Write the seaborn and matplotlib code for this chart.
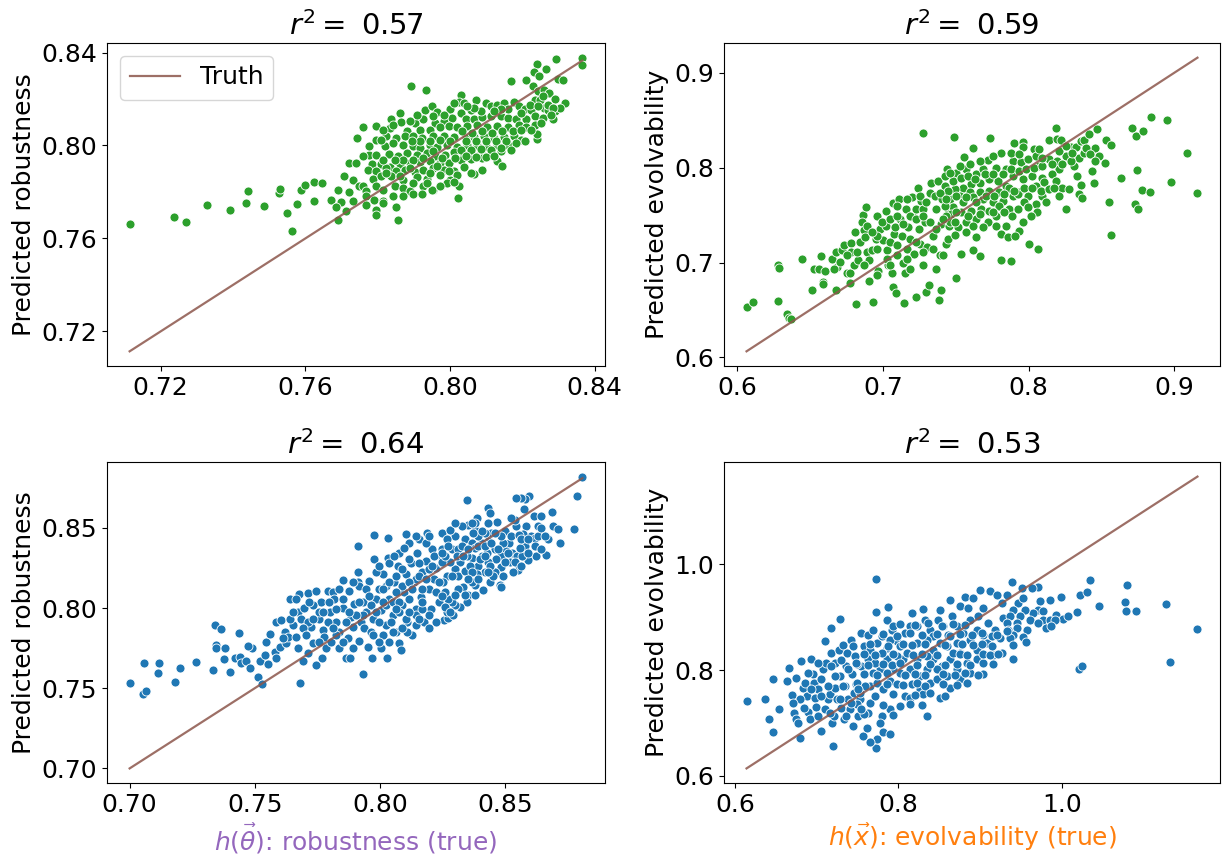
import matplotlib
matplotlib.use("Agg")
import matplotlib.pyplot as plt
import seaborn as sns
import pandas as pd

# ---------------- data: (true value, predicted value) ----------------
TL_PTS = [
    (0.7114, 0.7664), (0.7236, 0.7691), (0.7270, 0.7670), (0.7327, 0.7746), (0.7392, 0.7723),
    (0.7435, 0.7751), (0.7441, 0.7805), (0.7485, 0.7739), (0.7526, 0.7794), (0.7529, 0.7811),
    (0.7549, 0.7709), (0.7563, 0.7632), (0.7578, 0.7748), (0.7587, 0.7810), (0.7600, 0.7829),
    (0.7624, 0.7761), (0.7624, 0.7842), (0.7645, 0.7837), (0.7671, 0.7767),
    (0.8366, 0.8378), (0.8364, 0.8346), (0.8294, 0.8374), (0.8241, 0.8352), (0.8266, 0.8330),
    (0.8232, 0.8317), (0.8245, 0.8299), (0.8168, 0.8276), (0.8210, 0.8281), (0.8299, 0.8287),
    (0.8313, 0.8281), (0.8230, 0.8256), (0.7892, 0.8254), (0.7934, 0.8238), (0.8029, 0.8217),
    (0.8243, 0.8234), (0.8260, 0.8241), (0.8275, 0.8224), (0.8289, 0.8198), (0.8317, 0.8184),
    (0.8234, 0.8194), (0.8250, 0.8194), (0.8024, 0.8186), (0.8038, 0.8184), (0.8073, 0.8195),
    (0.8099, 0.8184), (0.8113, 0.8172), (0.8131, 0.8176), (0.8150, 0.8184), (0.8178, 0.8186),
    (0.8192, 0.8169), (0.8206, 0.8155), (0.8224, 0.8152), (0.8260, 0.8162), (0.8271, 0.8152),
    (0.8289, 0.8148), (0.8303, 0.8162), (0.7931, 0.8152), (0.7950, 0.8169), (0.7964, 0.8143),
    (0.8001, 0.8158), (0.8029, 0.8140), (0.8057, 0.8152), (0.7861, 0.8138), (0.7838, 0.8115),
    (0.7864, 0.8100), (0.7903, 0.8097), (0.7926, 0.8112), (0.7959, 0.8097), (0.7982, 0.8104),
    (0.8006, 0.8119), (0.8043, 0.8112), (0.8066, 0.8115), (0.8089, 0.8123), (0.8113, 0.8129),
    (0.8141, 0.8126), (0.8159, 0.8117), (0.8182, 0.8115), (0.8210, 0.8115), (0.8234, 0.8126),
    (0.8257, 0.8119), (0.8285, 0.8115), (0.7759, 0.8080), (0.7794, 0.8086), (0.7833, 0.8076),
    (0.7880, 0.8061), (0.7917, 0.8066), (0.7945, 0.8068), (0.7973, 0.8080), (0.7996, 0.8083),
    (0.8019, 0.8080), (0.8047, 0.8086), (0.8075, 0.8090), (0.8103, 0.8080), (0.8131, 0.8086),
    (0.8159, 0.8080), (0.8192, 0.8090), (0.8210, 0.8080), (0.7742, 0.8033), (0.7794, 0.8025),
    (0.7824, 0.8040), (0.7852, 0.8033), (0.7875, 0.8040), (0.7898, 0.8043), (0.7922, 0.8033),
    (0.7954, 0.8043), (0.7982, 0.8040), (0.8010, 0.8037), (0.8043, 0.8033), (0.8066, 0.8037),
    (0.8094, 0.8043), (0.8122, 0.8033), (0.8150, 0.8037), (0.8178, 0.8040), (0.8196, 0.8025),
    (0.8241, 0.8028), (0.8241, 0.8051), (0.8206, 0.8018), (0.7819, 0.7997), (0.7843, 0.8011),
    (0.7871, 0.8004), (0.7898, 0.7997), (0.7917, 0.7989), (0.7945, 0.8000), (0.7964, 0.7994),
    (0.7992, 0.8000), (0.8019, 0.7994), (0.8047, 0.8000), (0.8075, 0.8004), (0.8099, 0.7997),
    (0.8131, 0.8000), (0.8159, 0.8004), (0.7776, 0.7961), (0.7796, 0.7961), (0.7831, 0.7965),
    (0.7857, 0.7953), (0.7880, 0.7968), (0.7908, 0.7961), (0.7936, 0.7968), (0.7959, 0.7953),
    (0.7987, 0.7961), (0.8010, 0.7971), (0.8038, 0.7961), (0.8061, 0.7965), (0.8085, 0.7968),
    (0.8113, 0.7971), (0.8141, 0.7975), (0.7722, 0.7925), (0.7740, 0.7925), (0.7785, 0.7922),
    (0.7810, 0.7922), (0.7833, 0.7907), (0.7861, 0.7922), (0.7889, 0.7925), (0.7917, 0.7927),
    (0.7945, 0.7932), (0.7973, 0.7925), (0.7996, 0.7925), (0.8029, 0.7939), (0.8057, 0.7942),
    (0.8089, 0.7946), (0.8131, 0.7932), (0.8145, 0.7913), (0.7708, 0.7867), (0.7731, 0.7853),
    (0.7773, 0.7896), (0.7796, 0.7889), (0.7824, 0.7903), (0.7852, 0.7889), (0.7875, 0.7893),
    (0.7903, 0.7884), (0.7926, 0.7896), (0.7954, 0.7903), (0.7982, 0.7893), (0.8010, 0.7889),
    (0.8038, 0.7907), (0.8066, 0.7879), (0.8089, 0.7896), (0.7749, 0.7824), (0.7787, 0.7856),
    (0.7810, 0.7867), (0.7838, 0.7867), (0.7871, 0.7853), (0.7908, 0.7864), (0.7936, 0.7856),
    (0.7973, 0.7874), (0.8001, 0.7853), (0.8019, 0.7874), (0.8057, 0.7881), (0.7689, 0.7809),
    (0.7722, 0.7798), (0.7759, 0.7824), (0.7768, 0.7802), (0.7796, 0.7824), (0.7815, 0.7809),
    (0.7847, 0.7827), (0.7871, 0.7817), (0.7889, 0.7802), (0.7926, 0.7824), (0.7954, 0.7809),
    (0.7992, 0.7838), (0.8024, 0.7824), (0.7698, 0.7755), (0.7731, 0.7759), (0.7768, 0.7781),
    (0.7791, 0.7766), (0.7815, 0.7759), (0.7843, 0.7784), (0.7871, 0.7781), (0.7898, 0.7792),
    (0.7922, 0.7792), (0.7950, 0.7809), (0.7684, 0.7737), (0.7712, 0.7716), (0.7768, 0.7745),
    (0.7815, 0.7752), (0.7852, 0.7737), (0.7796, 0.7723), (0.7796, 0.7702), (0.7689, 0.7680),
    (0.7857, 0.7680), (0.8021, 0.7773),
]
TL_CORE = [
    (0.8033, 0.8061), (0.8061, 0.8054), (0.8089, 0.8061), (0.8117, 0.8054), (0.8145, 0.8061),
    (0.8173, 0.8061), (0.8043, 0.8018), (0.8071, 0.8018), (0.8099, 0.8018), (0.8127, 0.8018),
    (0.8154, 0.8018), (0.8182, 0.8011), (0.8029, 0.7982), (0.8057, 0.7982), (0.8085, 0.7985),
    (0.8113, 0.7982), (0.8141, 0.7989), (0.8168, 0.7982), (0.8001, 0.8018), (0.7973, 0.8025),
    (0.7945, 0.8018), (0.7917, 0.8018), (0.7894, 0.8018), (0.8015, 0.7946), (0.8043, 0.7953),
    (0.8071, 0.7950), (0.8099, 0.7950), (0.8122, 0.7953), (0.7978, 0.7946), (0.7954, 0.7975),
    (0.7926, 0.7946), (0.7898, 0.7939), (0.7871, 0.7939), (0.7847, 0.7939), (0.7815, 0.7939),
    (0.7824, 0.7881), (0.7889, 0.7903), (0.7945, 0.7881), (0.7996, 0.7889), (0.7964, 0.7910),
    (0.7861, 0.7867), (0.7898, 0.7838), (0.7936, 0.7838), (0.7973, 0.7824), (0.8010, 0.7845),
    (0.8196, 0.8140), (0.8220, 0.8176), (0.8243, 0.8169), (0.8257, 0.8212), (0.8271, 0.8176),
    (0.8285, 0.8162), (0.8234, 0.8090), (0.8252, 0.8097), (0.8280, 0.8133), (0.8196, 0.8068),
    (0.8224, 0.8068), (0.8159, 0.8155), (0.8141, 0.8155), (0.8122, 0.8148), (0.8085, 0.8148),
    (0.8066, 0.8162), (0.8047, 0.8169), (0.8010, 0.8184), (0.7982, 0.8133), (0.7954, 0.8126),
    (0.7908, 0.8133), (0.7889, 0.8104), (0.7843, 0.8090), (0.7815, 0.8068), (0.7810, 0.8025),
    (0.7777, 0.7997), (0.7759, 0.7953),
]

TR_PTS = [
    (0.6065, 0.6533), (0.6109, 0.6585), (0.6281, 0.6972), (0.6288, 0.6944), (0.6281, 0.6599),
    (0.6340, 0.6456), (0.6359, 0.6415), (0.6368, 0.6408), (0.6447, 0.7042), (0.6515, 0.6714),
    (0.6527, 0.6937), (0.6561, 0.6930), (0.6579, 0.7069), (0.6590, 0.6798), (0.6590, 0.6773),
    (0.6606, 0.6909), (0.6652, 0.7042), (0.6681, 0.6714), (0.6686, 0.6955), (0.6681, 0.7111),
    (0.6720, 0.7129), (0.6736, 0.7181), (0.6754, 0.6895), (0.6772, 0.6885), (0.6783, 0.7209),
    (0.6777, 0.6780), (0.6783, 0.7111), (0.6799, 0.6972), (0.6818, 0.6561), (0.6833, 0.7024),
    (0.6811, 0.7327), (0.6845, 0.7216), (0.6863, 0.7501), (0.6856, 0.7425), (0.6868, 0.7348),
    (0.6886, 0.7581), (0.6879, 0.7268), (0.6890, 0.7111), (0.6902, 0.6805), (0.6902, 0.7024),
    (0.6924, 0.7129), (0.6936, 0.6582), (0.6954, 0.7251), (0.6958, 0.7494), (0.6970, 0.6909),
    (0.6981, 0.7355), (0.7004, 0.7233), (0.7022, 0.7547), (0.7022, 0.7390), (0.7027, 0.7129),
    (0.7038, 0.6979), (0.7049, 0.7216), (0.7061, 0.6885), (0.7068, 0.7623), (0.7072, 0.6746),
    (0.7077, 0.7303), (0.7083, 0.7372), (0.7090, 0.6676), (0.7095, 0.7076), (0.7113, 0.7669),
    (0.7117, 0.7460), (0.7129, 0.7285), (0.7140, 0.6996), (0.7145, 0.6571), (0.7152, 0.6885),
    (0.7158, 0.7564), (0.7167, 0.7146), (0.7174, 0.7372), (0.7186, 0.7244), (0.7197, 0.7686),
    (0.7204, 0.7477), (0.7213, 0.7094), (0.7231, 0.6641), (0.7231, 0.7564), (0.7242, 0.7790),
    (0.7249, 0.7355), (0.7254, 0.7198), (0.7265, 0.7651), (0.7277, 0.8365), (0.7277, 0.7564),
    (0.7288, 0.7425), (0.7299, 0.6693), (0.7304, 0.7164), (0.7317, 0.6763), (0.7322, 0.7738),
    (0.7333, 0.7843), (0.7345, 0.7285), (0.7356, 0.7703), (0.7367, 0.7564), (0.7386, 0.6606),
    (0.7379, 0.7860), (0.7390, 0.7076), (0.7401, 0.6711), (0.7401, 0.7407), (0.7408, 0.7669),
    (0.7424, 0.7808), (0.7436, 0.7198), (0.7440, 0.7982), (0.7447, 0.7564), (0.7454, 0.7390),
    (0.7491, 0.8324), (0.7736, 0.8310), (0.7618, 0.8209), (0.7557, 0.8115), (0.7505, 0.7948),
    (0.7573, 0.7983), (0.7641, 0.7930), (0.7686, 0.7983), (0.7720, 0.8080), (0.7777, 0.8000),
    (0.7811, 0.8150), (0.7845, 0.7983), (0.7895, 0.8070), (0.7902, 0.8261), (0.7959, 0.8268),
    (0.7959, 0.8219), (0.7948, 0.8059), (0.7993, 0.8087), (0.8039, 0.8192), (0.8050, 0.8122),
    (0.8073, 0.8017), (0.8141, 0.8289), (0.8186, 0.8418), (0.8198, 0.8303), (0.8220, 0.8296),
    (0.8141, 0.8087), (0.8198, 0.8070), (0.8254, 0.8122), (0.8289, 0.8219), (0.8327, 0.8219),
    (0.8357, 0.8279), (0.8379, 0.8296), (0.8413, 0.8359), (0.8470, 0.8408), (0.8532, 0.8296),
    (0.8568, 0.8244), (0.8459, 0.8209), (0.8482, 0.8122), (0.8527, 0.8052), (0.8345, 0.8104),
    (0.8379, 0.8157), (0.8311, 0.8017), (0.8209, 0.7983), (0.8164, 0.7930), (0.8095, 0.7895),
    (0.8027, 0.7913), (0.7959, 0.7878), (0.7891, 0.7913), (0.7845, 0.7808), (0.7789, 0.7861),
    (0.7732, 0.7878), (0.7664, 0.7843), (0.7607, 0.7826), (0.7550, 0.7791), (0.7493, 0.7774),
    (0.7459, 0.7669), (0.7527, 0.7704), (0.7596, 0.7739), (0.7664, 0.7739), (0.7732, 0.7756),
    (0.7800, 0.7739), (0.7868, 0.7791), (0.7936, 0.7739), (0.7993, 0.7704), (0.8050, 0.7808),
    (0.8107, 0.7850), (0.8186, 0.7861), (0.8232, 0.7781), (0.8277, 0.7774), (0.8334, 0.7913),
    (0.8432, 0.7965), (0.8448, 0.7843), (0.8357, 0.7815), (0.8345, 0.7721), (0.8368, 0.7676),
    (0.8209, 0.7704), (0.8095, 0.7697), (0.8050, 0.7617), (0.7970, 0.7634), (0.7891, 0.7704),
    (0.7823, 0.7652), (0.7755, 0.7634), (0.7686, 0.7669), (0.7618, 0.7687), (0.7550, 0.7634),
    (0.7482, 0.7582), (0.7471, 0.7512), (0.7539, 0.7530), (0.7607, 0.7547), (0.7675, 0.7565),
    (0.7732, 0.7547), (0.7800, 0.7599), (0.7868, 0.7565), (0.7925, 0.7721), (0.8061, 0.7530),
    (0.8016, 0.7488), (0.7886, 0.7495), (0.7777, 0.7495), (0.7720, 0.7425), (0.7641, 0.7460),
    (0.7573, 0.7425), (0.7516, 0.7373), (0.7459, 0.7432), (0.7448, 0.7251), (0.7493, 0.7293),
    (0.7573, 0.7321), (0.7641, 0.7269), (0.7811, 0.7303), (0.7857, 0.7269), (0.7936, 0.7328),
    (0.7909, 0.7279), (0.8000, 0.7199), (0.8068, 0.7147), (0.8259, 0.7565), (0.8550, 0.7634),
    (0.8636, 0.7895), (0.8568, 0.7293), (0.8743, 0.7976), (0.8777, 0.7767), (0.8834, 0.7746),
    (0.8732, 0.7617), (0.8754, 0.7565), (0.8977, 0.7850), (0.9084, 0.8157), (0.9159, 0.7737),
    (0.8709, 0.8418), (0.8738, 0.8338), (0.8788, 0.8383), (0.8838, 0.8533), (0.8947, 0.8505),
    (0.7539, 0.7094), (0.7618, 0.7129), (0.7668, 0.7070), (0.7811, 0.7025), (0.7880, 0.7018),
    (0.7505, 0.6833),
]
TR_CORE = [
    (0.7425, 0.7913), (0.7482, 0.7861), (0.7539, 0.7896), (0.7584, 0.7913), (0.7630, 0.7878),
    (0.7698, 0.7930), (0.7755, 0.7930), (0.7823, 0.7930), (0.7880, 0.7983), (0.7936, 0.7965),
    (0.7982, 0.7983), (0.8039, 0.8000), (0.8095, 0.8017), (0.8164, 0.8035), (0.8232, 0.8035),
    (0.8289, 0.8070), (0.7448, 0.7756), (0.7505, 0.7704), (0.7573, 0.7687), (0.7641, 0.7634),
    (0.7709, 0.7704), (0.7766, 0.7704), (0.7834, 0.7721), (0.7902, 0.7756), (0.7970, 0.7791),
    (0.8027, 0.7791), (0.8084, 0.7756), (0.8141, 0.7774), (0.8175, 0.7791), (0.7425, 0.7599),
    (0.7505, 0.7530), (0.7584, 0.7495), (0.7664, 0.7512), (0.7755, 0.7530), (0.7834, 0.7530),
    (0.7925, 0.7565), (0.7993, 0.7582), (0.8118, 0.7634), (0.7436, 0.7495), (0.7493, 0.7425),
    (0.7618, 0.7390), (0.7686, 0.7373), (0.7777, 0.7390), (0.7845, 0.7390), (0.7959, 0.7425),
    (0.7880, 0.8157), (0.7936, 0.8139), (0.8073, 0.8192), (0.8095, 0.8104), (0.8209, 0.8174),
    (0.8254, 0.8226), (0.8300, 0.8157), (0.8391, 0.8209), (0.8425, 0.8139), (0.8459, 0.8070),
    (0.7755, 0.8122), (0.7664, 0.8070), (0.7596, 0.8035), (0.7527, 0.8017), (0.7459, 0.7948),
    (0.6958, 0.7285), (0.6993, 0.7425), (0.7049, 0.7460), (0.7095, 0.7494), (0.7140, 0.7407),
    (0.7186, 0.7494), (0.7231, 0.7460), (0.7277, 0.7494), (0.7322, 0.7425), (0.7367, 0.7355),
    (0.7413, 0.7460), (0.6958, 0.7146), (0.7027, 0.7042), (0.7095, 0.7181), (0.7163, 0.7042),
    (0.7231, 0.7216), (0.7277, 0.7111), (0.7345, 0.7146), (0.7413, 0.7076), (0.6890, 0.7390),
    (0.6924, 0.7320), (0.7095, 0.7599), (0.7163, 0.7669), (0.7254, 0.7703), (0.7299, 0.7634),
    (0.7390, 0.7738), (0.7436, 0.7669), (0.6822, 0.7111), (0.6754, 0.7076), (0.6709, 0.7007),
    (0.6663, 0.6937), (0.6868, 0.6972), (0.6958, 0.6868), (0.7049, 0.6972), (0.7186, 0.6937),
    (0.7277, 0.6972), (0.7367, 0.6937),
]

BL_PTS = [
    (0.7000, 0.7532), (0.7052, 0.7466), (0.7065, 0.7480), (0.7056, 0.7659), (0.7113, 0.7598),
    (0.7116, 0.7659), (0.7181, 0.7536), (0.7201, 0.7629), (0.7265, 0.7666), (0.7335, 0.7614),
    (0.7341, 0.7892), (0.7346, 0.7769), (0.7347, 0.7748), (0.7366, 0.7872), (0.7377, 0.7680),
    (0.7382, 0.7748), (0.7401, 0.7604), (0.7436, 0.7845), (0.7422, 0.7686), (0.7441, 0.7697),
    (0.7444, 0.7655),
    (0.7467, 0.7671), (0.7481, 0.7626), (0.7491, 0.7749), (0.7474, 0.7766), (0.7514, 0.7568),
    (0.7531, 0.7527), (0.7520, 0.7667), (0.7540, 0.7708), (0.7547, 0.7790), (0.7560, 0.7836),
    (0.7580, 0.7729), (0.7587, 0.7687), (0.7553, 0.7650), (0.7587, 0.7914), (0.7606, 0.7924),
    (0.7600, 0.7759), (0.7620, 0.7852), (0.7626, 0.7780), (0.7633, 0.7821), (0.7640, 0.8054),
    (0.7673, 0.7975), (0.7679, 0.8089), (0.7686, 0.7930), (0.7699, 0.8000), (0.7713, 0.8095),
    (0.7666, 0.7821), (0.7673, 0.7749), (0.7682, 0.7533), (0.7693, 0.7667), (0.7713, 0.7718),
    (0.7726, 0.7883), (0.7732, 0.7780), (0.7746, 0.8109), (0.7746, 0.7646), (0.7759, 0.7934),
    (0.7766, 0.8037), (0.7772, 0.7862), (0.7779, 0.7821), (0.7770, 0.7687), (0.7792, 0.8109),
    (0.7801, 0.7975), (0.7812, 0.8099), (0.7819, 0.8058), (0.7825, 0.7914), (0.7839, 0.7852),
    (0.7839, 0.7749), (0.7852, 0.8000), (0.7852, 0.8177), (0.7865, 0.7687), (0.7872, 0.7811),
    (0.7880, 0.7690), (0.7878, 0.8109), (0.7885, 0.7945), (0.7892, 0.7883), (0.7898, 0.8027),
    (0.7911, 0.8161), (0.7918, 0.7794), (0.7925, 0.7914), (0.7931, 0.7589), (0.7911, 0.8387),
    (0.7918, 0.8140), (0.7931, 0.8037), (0.7938, 0.7873), (0.7945, 0.7975), (0.7951, 0.7759),
    (0.7964, 0.7852), (0.7968, 0.7687), (0.7971, 0.7934), (0.7978, 0.8455), (0.7978, 0.8305),
    (0.7958, 0.8171), (0.7984, 0.8058), (0.7998, 0.8119), (0.8004, 0.7986), (0.8011, 0.7831),
    (0.8024, 0.7893), (0.8027, 0.7687), (0.8011, 0.8212), (0.8031, 0.8438), (0.8031, 0.8315),
    (0.8037, 0.8058), (0.8051, 0.7955), (0.8057, 0.8161), (0.8064, 0.7852), (0.8071, 0.8264),
    (0.8077, 0.8346), (0.8077, 0.7780), (0.8084, 0.7739), (0.8090, 0.8017), (0.8097, 0.8099),
    (0.8104, 0.8465), (0.8104, 0.8212), (0.8110, 0.7914), (0.8117, 0.8408), (0.8124, 0.8284),
    (0.8130, 0.7831), (0.8137, 0.8161), (0.8143, 0.7996), (0.8150, 0.8346), (0.8157, 0.8428),
    (0.8163, 0.8068), (0.8170, 0.8222), (0.8177, 0.7914), (0.8183, 0.8294), (0.8190, 0.8469),
    (0.8197, 0.8119), (0.8203, 0.7996), (0.8210, 0.8366), (0.8216, 0.8181), (0.8223, 0.8253),
    (0.8236, 0.8037), (0.8243, 0.8325), (0.8250, 0.8469), (0.8256, 0.7924),
    (0.8037, 0.8284), (0.8064, 0.8202), (0.8090, 0.8140), (0.8117, 0.8058), (0.8143, 0.8181),
    (0.8170, 0.8119), (0.8197, 0.8243), (0.8223, 0.8099), (0.8143, 0.7955), (0.8170, 0.7996),
    (0.8077, 0.7975), (0.8024, 0.8017), (0.7998, 0.7914), (0.8051, 0.8037), (0.8117, 0.8161),
    (0.8157, 0.8284), (0.8183, 0.8408), (0.8216, 0.8325), (0.8197, 0.8449), (0.7984, 0.8222),
    (0.7964, 0.8017), (0.7931, 0.7955), (0.7905, 0.7955), (0.7852, 0.8058), (0.7825, 0.7996),
    (0.7792, 0.7914), (0.7759, 0.7975), (0.7732, 0.8017), (0.7713, 0.7914), (0.7693, 0.7873),
    (0.7653, 0.7893), (0.7640, 0.7934), (0.7613, 0.7811), (0.7666, 0.8058), (0.7785, 0.7749),
    (0.7805, 0.7790), (0.7825, 0.7831), (0.7865, 0.7914), (0.7971, 0.7831), (0.8004, 0.7749),
    (0.8044, 0.7914), (0.8110, 0.7852), (0.8064, 0.8099), (0.8024, 0.8140), (0.7945, 0.8119),
    (0.7892, 0.8161), (0.7911, 0.8222), (0.7998, 0.8264), (0.8057, 0.8325), (0.8097, 0.8377),
    (0.8143, 0.8449), (0.8250, 0.8284),
    (0.8810, 0.8820), (0.8788, 0.8696), (0.8778, 0.8494), (0.8688, 0.8597), (0.8692, 0.8511),
    (0.8712, 0.8494), (0.8722, 0.8404), (0.8674, 0.8429), (0.8665, 0.8334), (0.8625, 0.8326),
    (0.8592, 0.8301), (0.8552, 0.8239), (0.8616, 0.8573), (0.8645, 0.8573), (0.8632, 0.8511),
    (0.8595, 0.8696), (0.8579, 0.8680), (0.8563, 0.8686), (0.8546, 0.8686), (0.8576, 0.8618),
    (0.8586, 0.8511), (0.8606, 0.8449), (0.8619, 0.8439), (0.8579, 0.8387), (0.8572, 0.8459),
    (0.8546, 0.8511), (0.8539, 0.8552), (0.8523, 0.8562), (0.8499, 0.8480), (0.8515, 0.8404),
    (0.8529, 0.8346), (0.8550, 0.8326), (0.8568, 0.8326), (0.8506, 0.8357), (0.8486, 0.8326),
    (0.8486, 0.8254), (0.8480, 0.8141), (0.8486, 0.8130), (0.8460, 0.8223), (0.8440, 0.8161),
    (0.8433, 0.8624), (0.8440, 0.8593), (0.8470, 0.8536), (0.8446, 0.8470), (0.8433, 0.8418),
    (0.8420, 0.8470), (0.8407, 0.8408), (0.8387, 0.8562), (0.8380, 0.8490), (0.8407, 0.8326),
    (0.8367, 0.8315), (0.8393, 0.8264), (0.8420, 0.8223), (0.8413, 0.8110), (0.8380, 0.8141),
    (0.8367, 0.8161), (0.8354, 0.8079), (0.8334, 0.8130), (0.8347, 0.8038), (0.8320, 0.8007),
    (0.8301, 0.8017), (0.8287, 0.8038), (0.8274, 0.8058), (0.8274, 0.7935), (0.8267, 0.7976),
    (0.8294, 0.7955), (0.8347, 0.8671), (0.8354, 0.8521), (0.8327, 0.8511), (0.8301, 0.8449),
    (0.8281, 0.8490), (0.8267, 0.8429), (0.8287, 0.8367), (0.8314, 0.8367), (0.8340, 0.8429),
    (0.8367, 0.8408), (0.8380, 0.8377), (0.8347, 0.8326), (0.8320, 0.8285), (0.8301, 0.8243),
    (0.8281, 0.8285), (0.8267, 0.8202), (0.8314, 0.8202), (0.8340, 0.8233), (0.8360, 0.8264),
    (0.8387, 0.8213), (0.8393, 0.8449), (0.8460, 0.8367), (0.8466, 0.8305), (0.8433, 0.8285),
    (0.8493, 0.8408), (0.8519, 0.8285), (0.8559, 0.8377), (0.8526, 0.8449), (0.8555, 0.8453),
    (0.8427, 0.8346), (0.8380, 0.8531),
]
BL_CORE = [
    (0.8248, 0.8367), (0.8248, 0.8285), (0.8254, 0.8161), (0.8261, 0.8099), (0.8287, 0.8202),
    (0.8307, 0.8326), (0.8327, 0.8387), (0.8334, 0.8326), (0.8354, 0.8367), (0.8367, 0.8223),
    (0.8373, 0.8470), (0.8393, 0.8387), (0.8400, 0.8305), (0.8420, 0.8387), (0.8420, 0.8326),
    (0.8440, 0.8264), (0.8446, 0.8408), (0.8453, 0.8202), (0.8473, 0.8367), (0.8486, 0.8449),
    (0.8493, 0.8202), (0.8499, 0.8285), (0.8513, 0.8346), (0.8539, 0.8285), (0.8533, 0.8223),
    (0.8566, 0.8429), (0.8592, 0.8429), (0.8566, 0.8264), (0.8632, 0.8449), (0.8619, 0.8387),
    (0.8645, 0.8367), (0.8592, 0.8346), (0.8645, 0.8501), (0.8659, 0.8449), (0.8460, 0.8470),
    (0.8433, 0.8531), (0.8407, 0.8480), (0.8367, 0.8531), (0.8301, 0.8531), (0.8274, 0.8387),
    (0.8261, 0.8326), (0.8314, 0.8120), (0.8354, 0.8182), (0.8393, 0.8182), (0.8433, 0.8223),
    (0.8340, 0.8079), (0.8301, 0.8079), (0.8380, 0.8079), (0.8261, 0.8007), (0.8281, 0.7976),
    (0.7958, 0.8078), (0.7984, 0.7975), (0.8011, 0.8119), (0.8037, 0.8161), (0.8051, 0.7852),
    (0.8077, 0.8037), (0.8090, 0.8243), (0.8104, 0.7934), (0.8117, 0.8305), (0.8130, 0.8119),
    (0.8143, 0.7893), (0.8157, 0.8202), (0.8170, 0.8037), (0.8183, 0.8181), (0.8197, 0.7955),
    (0.8210, 0.8264), (0.8223, 0.7914), (0.8236, 0.8161), (0.8250, 0.8346), (0.8250, 0.8078),
    (0.7998, 0.7790), (0.8037, 0.7790), (0.8090, 0.7873), (0.8197, 0.7873), (0.8011, 0.8037),
    (0.8064, 0.7996), (0.8117, 0.7975), (0.8157, 0.7934), (0.7918, 0.8037), (0.7878, 0.7975),
    (0.7839, 0.8119), (0.7799, 0.8037), (0.7772, 0.7975), (0.7732, 0.7934), (0.7706, 0.7831),
    (0.7759, 0.7790), (0.7812, 0.7873), (0.7852, 0.7790), (0.7892, 0.7749), (0.7719, 0.8037),
    (0.7653, 0.7975),
]

BR_PTS = [
    (0.6143, 0.7417), (0.6373, 0.7461), (0.6422, 0.7085), (0.6471, 0.6834), (0.6471, 0.7838),
    (0.6537, 0.7273), (0.6639, 0.7794), (0.6668, 0.8045), (0.6697, 0.7537), (0.6721, 0.7185),
    (0.6742, 0.7073), (0.6750, 0.7856), (0.6770, 0.7010), (0.6803, 0.6709), (0.6811, 0.8170),
    (0.6832, 0.7668), (0.6860, 0.7750), (0.6885, 0.7512), (0.6893, 0.7211), (0.6914, 0.7085),
    (0.6926, 0.8214), (0.6955, 0.7919), (0.6967, 0.7762), (0.6983, 0.7480), (0.6996, 0.7311),
    (0.7016, 0.7637), (0.7049, 0.6853), (0.7057, 0.7825), (0.7078, 0.8013), (0.7098, 0.8546),
    (0.7106, 0.7261), (0.7119, 0.8139), (0.7139, 0.7449), (0.7160, 0.7543), (0.7172, 0.8327),
    (0.7180, 0.8797), (0.7188, 0.7010), (0.7201, 0.6571), (0.7213, 0.7135), (0.7221, 0.8139),
    (0.7229, 0.7668), (0.7254, 0.7449), (0.7270, 0.8390), (0.7283, 0.7888), (0.7303, 0.7292),
    (0.7324, 0.8484), (0.7336, 0.7073), (0.7344, 0.7700), (0.7365, 0.8076), (0.7377, 0.8327),
    (0.7385, 0.7449), (0.7406, 0.7261), (0.7418, 0.8578), (0.7434, 0.7919), (0.7447, 0.6947),
    (0.7459, 0.7574), (0.7467, 0.8264), (0.7488, 0.7731), (0.7508, 0.7135), (0.7529, 0.7449),
    (0.7541, 0.8703), (0.7549, 0.8076), (0.7570, 0.6759), (0.7582, 0.8453), (0.7284, 0.8966),
    (0.7724, 0.9726), (0.7724, 0.9098), (0.7724, 0.6521), (0.7879, 0.9186), (0.7859, 0.8954),
    (0.7623, 0.8672), (0.7696, 0.8766), (0.7655, 0.8390), (0.7635, 0.8202), (0.7737, 0.8515),
    (0.7798, 0.8641), (0.7859, 0.8421), (0.7920, 0.8766), (0.7981, 0.8546), (0.7940, 0.8829),
    (0.8022, 0.8452), (0.8083, 0.8703), (0.8144, 0.8829), (0.8164, 0.9080), (0.8225, 0.8829),
    (0.8306, 0.9155), (0.8327, 0.8954), (0.8388, 0.8766), (0.8429, 0.8641), (0.8490, 0.8954),
    (0.8510, 0.9142), (0.8551, 0.8829), (0.8612, 0.8672), (0.8632, 0.9330), (0.8652, 0.9017),
    (0.8713, 0.8829), (0.8754, 0.9205), (0.8815, 0.9393), (0.8856, 0.9174), (0.8917, 0.9362),
    (0.8876, 0.8578), (0.8998, 0.9519), (0.9039, 0.9174), (0.9100, 0.8891), (0.9120, 0.9506),
    (0.9202, 0.9424), (0.9263, 0.9268), (0.9283, 0.8985), (0.9243, 0.8609), (0.9039, 0.8672),
    (0.8958, 0.8390), (0.8835, 0.8139), (0.8754, 0.8327), (0.8632, 0.8202), (0.8530, 0.8076),
    (0.8429, 0.8202), (0.8347, 0.8013), (0.8266, 0.7888), (0.8225, 0.8202), (0.8144, 0.8013),
    (0.8062, 0.8202), (0.8022, 0.7951), (0.7940, 0.8013), (0.7859, 0.8202), (0.7777, 0.8013),
    (0.7696, 0.7951), (0.7655, 0.7700), (0.7737, 0.7763), (0.7818, 0.7637), (0.7899, 0.7794),
    (0.7981, 0.7731), (0.8083, 0.7512), (0.8144, 0.7480), (0.8266, 0.7637), (0.8306, 0.7543),
    (0.8388, 0.7763), (0.8469, 0.7825), (0.8591, 0.7888), (0.8632, 0.7668), (0.8713, 0.8013),
    (0.8958, 0.8202), (0.9039, 0.7919), (0.9161, 0.8296), (0.9263, 0.8327), (0.8510, 0.7480),
    (0.8347, 0.7135), (0.8022, 0.7324), (0.7899, 0.7261), (0.7798, 0.7135), (0.7655, 0.7386),
    (0.7635, 0.7198), (0.7777, 0.7010), (0.7818, 0.6822), (0.7737, 0.6696), (0.7655, 0.6634),
    (0.7615, 0.6916), (0.7899, 0.6790), (0.8164, 0.7731), (0.8429, 0.8390), (0.8591, 0.8452),
    (0.8713, 0.8515), (0.8795, 0.8703), (0.8876, 0.8954), (0.8978, 0.9017), (0.9080, 0.8515),
    (0.9181, 0.8766), (0.8225, 0.8515), (0.8347, 0.8578), (0.8103, 0.8327), (0.7981, 0.8264),
    (0.7899, 0.8578), (0.7798, 0.8327), (0.7716, 0.8139), (0.8958, 0.8766), (0.8510, 0.8515),
    (0.8673, 0.8327), (0.8347, 0.8264), (0.8469, 0.8013), (0.8754, 0.7825), (0.8876, 0.7951),
    (0.9039, 0.8139), (0.9141, 0.8641),
    (0.9394, 0.9676), (0.9711, 0.9582), (0.9630, 0.9550), (0.9508, 0.9550), (0.9324, 0.9425),
    (0.9467, 0.9268), (0.9528, 0.9362), (0.9731, 0.9299), (0.9854, 0.9331), (0.9988, 0.9381),
    (1.0228, 0.9425), (1.0309, 0.9487), (1.0350, 0.9707), (1.0798, 0.9613), (0.9711, 0.9143),
    (0.9650, 0.9080), (0.9772, 0.9111), (0.9548, 0.9143), (0.9406, 0.9143), (0.9365, 0.9017),
    (0.9487, 0.9017), (0.9609, 0.8954), (0.9447, 0.8892), (0.9324, 0.8892), (0.9772, 0.8954),
    (0.9854, 0.8954), (0.9935, 0.9048), (1.0016, 0.8967), (1.0077, 0.9030), (1.0187, 0.9092),
    (0.9915, 0.8954), (0.9711, 0.8892), (0.9813, 0.8798), (0.9874, 0.8829), (0.9569, 0.8766),
    (0.9447, 0.8798), (0.9345, 0.8766), (0.9406, 0.8672), (0.9365, 0.8609), (0.9528, 0.8628),
    (0.9560, 0.8528), (0.9406, 0.8484), (0.9324, 0.8735), (0.9398, 0.8202), (1.0212, 0.8014),
    (1.0252, 0.8076), (1.0456, 0.9205), (1.0769, 0.9281), (1.0781, 0.9111), (1.0904, 0.9111),
    (1.1270, 0.9255), (1.1660, 0.8785), (1.1319, 0.8152),
]
BR_CORE = [
    (0.8022, 0.8880), (0.8205, 0.8850), (0.8367, 0.8890), (0.8530, 0.8840), (0.8673, 0.8870),
    (0.8815, 0.8850), (0.7818, 0.8690), (0.7981, 0.8650), (0.8144, 0.8700), (0.8286, 0.8660),
    (0.8469, 0.8690), (0.8632, 0.8650), (0.8754, 0.8690), (0.8897, 0.8660), (0.9019, 0.8700),
    (0.9202, 0.8660), (0.7655, 0.8500), (0.7879, 0.8460), (0.8062, 0.8500), (0.8164, 0.8470),
    (0.8327, 0.8490), (0.8571, 0.8470), (0.8775, 0.8500), (0.8917, 0.8470), (0.9019, 0.8490),
    (0.9141, 0.8460), (0.7574, 0.8310), (0.7716, 0.8280), (0.7940, 0.8310), (0.8184, 0.8280),
    (0.8286, 0.8310), (0.8469, 0.8280), (0.8754, 0.8300), (0.8835, 0.8280), (0.9039, 0.8310),
    (0.9120, 0.8290), (0.9222, 0.8310), (0.7492, 0.8120), (0.7635, 0.8090), (0.7818, 0.8120),
    (0.7920, 0.8100), (0.8022, 0.8130), (0.8225, 0.8090), (0.8388, 0.8120), (0.8571, 0.8100),
    (0.8713, 0.8120), (0.8876, 0.8090), (0.9161, 0.8110), (0.7574, 0.7930), (0.7737, 0.7900),
    (0.7859, 0.7940), (0.8083, 0.7910), (0.8205, 0.7930), (0.8327, 0.7900), (0.8551, 0.7930),
    (0.8693, 0.7910), (0.8815, 0.7940), (0.8978, 0.7900), (0.7492, 0.7750), (0.7594, 0.7710),
    (0.7859, 0.7740), (0.8062, 0.7720), (0.8225, 0.7750), (0.8327, 0.7710), (0.8551, 0.7740),
    (0.8713, 0.7720), (0.8835, 0.7750), (0.7533, 0.7560), (0.7716, 0.7520), (0.7940, 0.7550),
    (0.8205, 0.7530), (0.8388, 0.7560), (0.8571, 0.7520), (0.7492, 0.7370), (0.7818, 0.7340),
    (0.8144, 0.7360), (0.8286, 0.7350), (0.7574, 0.7180), (0.7940, 0.7150),
    (0.6791, 0.7449), (0.6852, 0.7292), (0.6934, 0.7637), (0.7016, 0.7135), (0.7057, 0.7512),
    (0.7139, 0.7700), (0.7160, 0.7198), (0.7221, 0.7888), (0.7283, 0.7449), (0.7324, 0.7700),
    (0.7365, 0.7135), (0.7385, 0.8013), (0.7426, 0.7386), (0.7488, 0.8139), (0.7508, 0.7637),
    (0.7549, 0.7261), (0.7016, 0.8139), (0.7180, 0.8076), (0.7303, 0.8201), (0.7447, 0.8452),
    (0.6893, 0.7951), (0.6709, 0.7386),
]

R2_VALUES = ["0.57", "0.59", "0.64", "0.53"]
TL_TICKS = [0.72, 0.76, 0.80, 0.84]
TR_TICKS = [0.6, 0.7, 0.8, 0.9]
BL_TICKS = [0.70, 0.75, 0.80, 0.85]
BR_TICKS = [0.6, 0.8, 1.0]
Y_LABELS = ["Predicted robustness", "Predicted evolvability",
            "Predicted robustness", "Predicted evolvability"]
X_LABELS = [None, None,
            r"$h(\vec{\theta})$: robustness (true)",
            r"$h(\vec{x})$: evolvability (true)"]
X_LABEL_COLORS = [None, None, "#9467bd", "#ff7f0e"]
POINT_COLORS = ["#2ca02c", "#2ca02c", "#1f77b4", "#1f77b4"]
LINE_COLOR = "#8c564b"

panels = [TL_PTS + TL_CORE, TR_PTS + TR_CORE, BL_PTS + BL_CORE, BR_PTS + BR_CORE]
ticks = [TL_TICKS, TR_TICKS, BL_TICKS, BR_TICKS]

fig = plt.figure(figsize=(12.25, 8.56), dpi=100)
positions = [
    [107 / 1225, 1 - 366 / 856, 498 / 1225, 323 / 856],
    [724 / 1225, 1 - 366 / 856, 496 / 1225, 323 / 856],
    [107 / 1225, 1 - 783 / 856, 498 / 1225, 321 / 856],
    [724 / 1225, 1 - 783 / 856, 496 / 1225, 321 / 856],
]

for i, pts in enumerate(panels):
    ax = fig.add_axes(positions[i])
    df = pd.DataFrame(pts, columns=["true", "pred"])
    sns.scatterplot(data=df, x="true", y="pred", color=POINT_COLORS[i],
                    s=42, edgecolor="white", linewidth=0.6, ax=ax, zorder=2)
    lo, hi = df["true"].min(), df["true"].max()
    line_df = pd.DataFrame({"x": [lo, hi], "y": [lo, hi]})
    sns.lineplot(data=line_df, x="x", y="y", color=LINE_COLOR, alpha=0.85,
                 linewidth=1.6, ax=ax, zorder=3,
                 label="Truth" if i == 0 else None, legend=(i == 0))
    ax.set_xticks(ticks[i])
    ax.set_yticks(ticks[i])
    ax.tick_params(labelsize=18)
    ax.set_title(r"$r^2 =$ " + R2_VALUES[i], fontsize=21)
    ax.set_ylabel(Y_LABELS[i], fontsize=18)
    if X_LABELS[i]:
        ax.set_xlabel(X_LABELS[i], fontsize=18, color=X_LABEL_COLORS[i])
    else:
        ax.set_xlabel("")
    if i == 0:
        ax.legend(loc="upper left", fontsize=18)

fig.savefig("out.png", dpi=100)
